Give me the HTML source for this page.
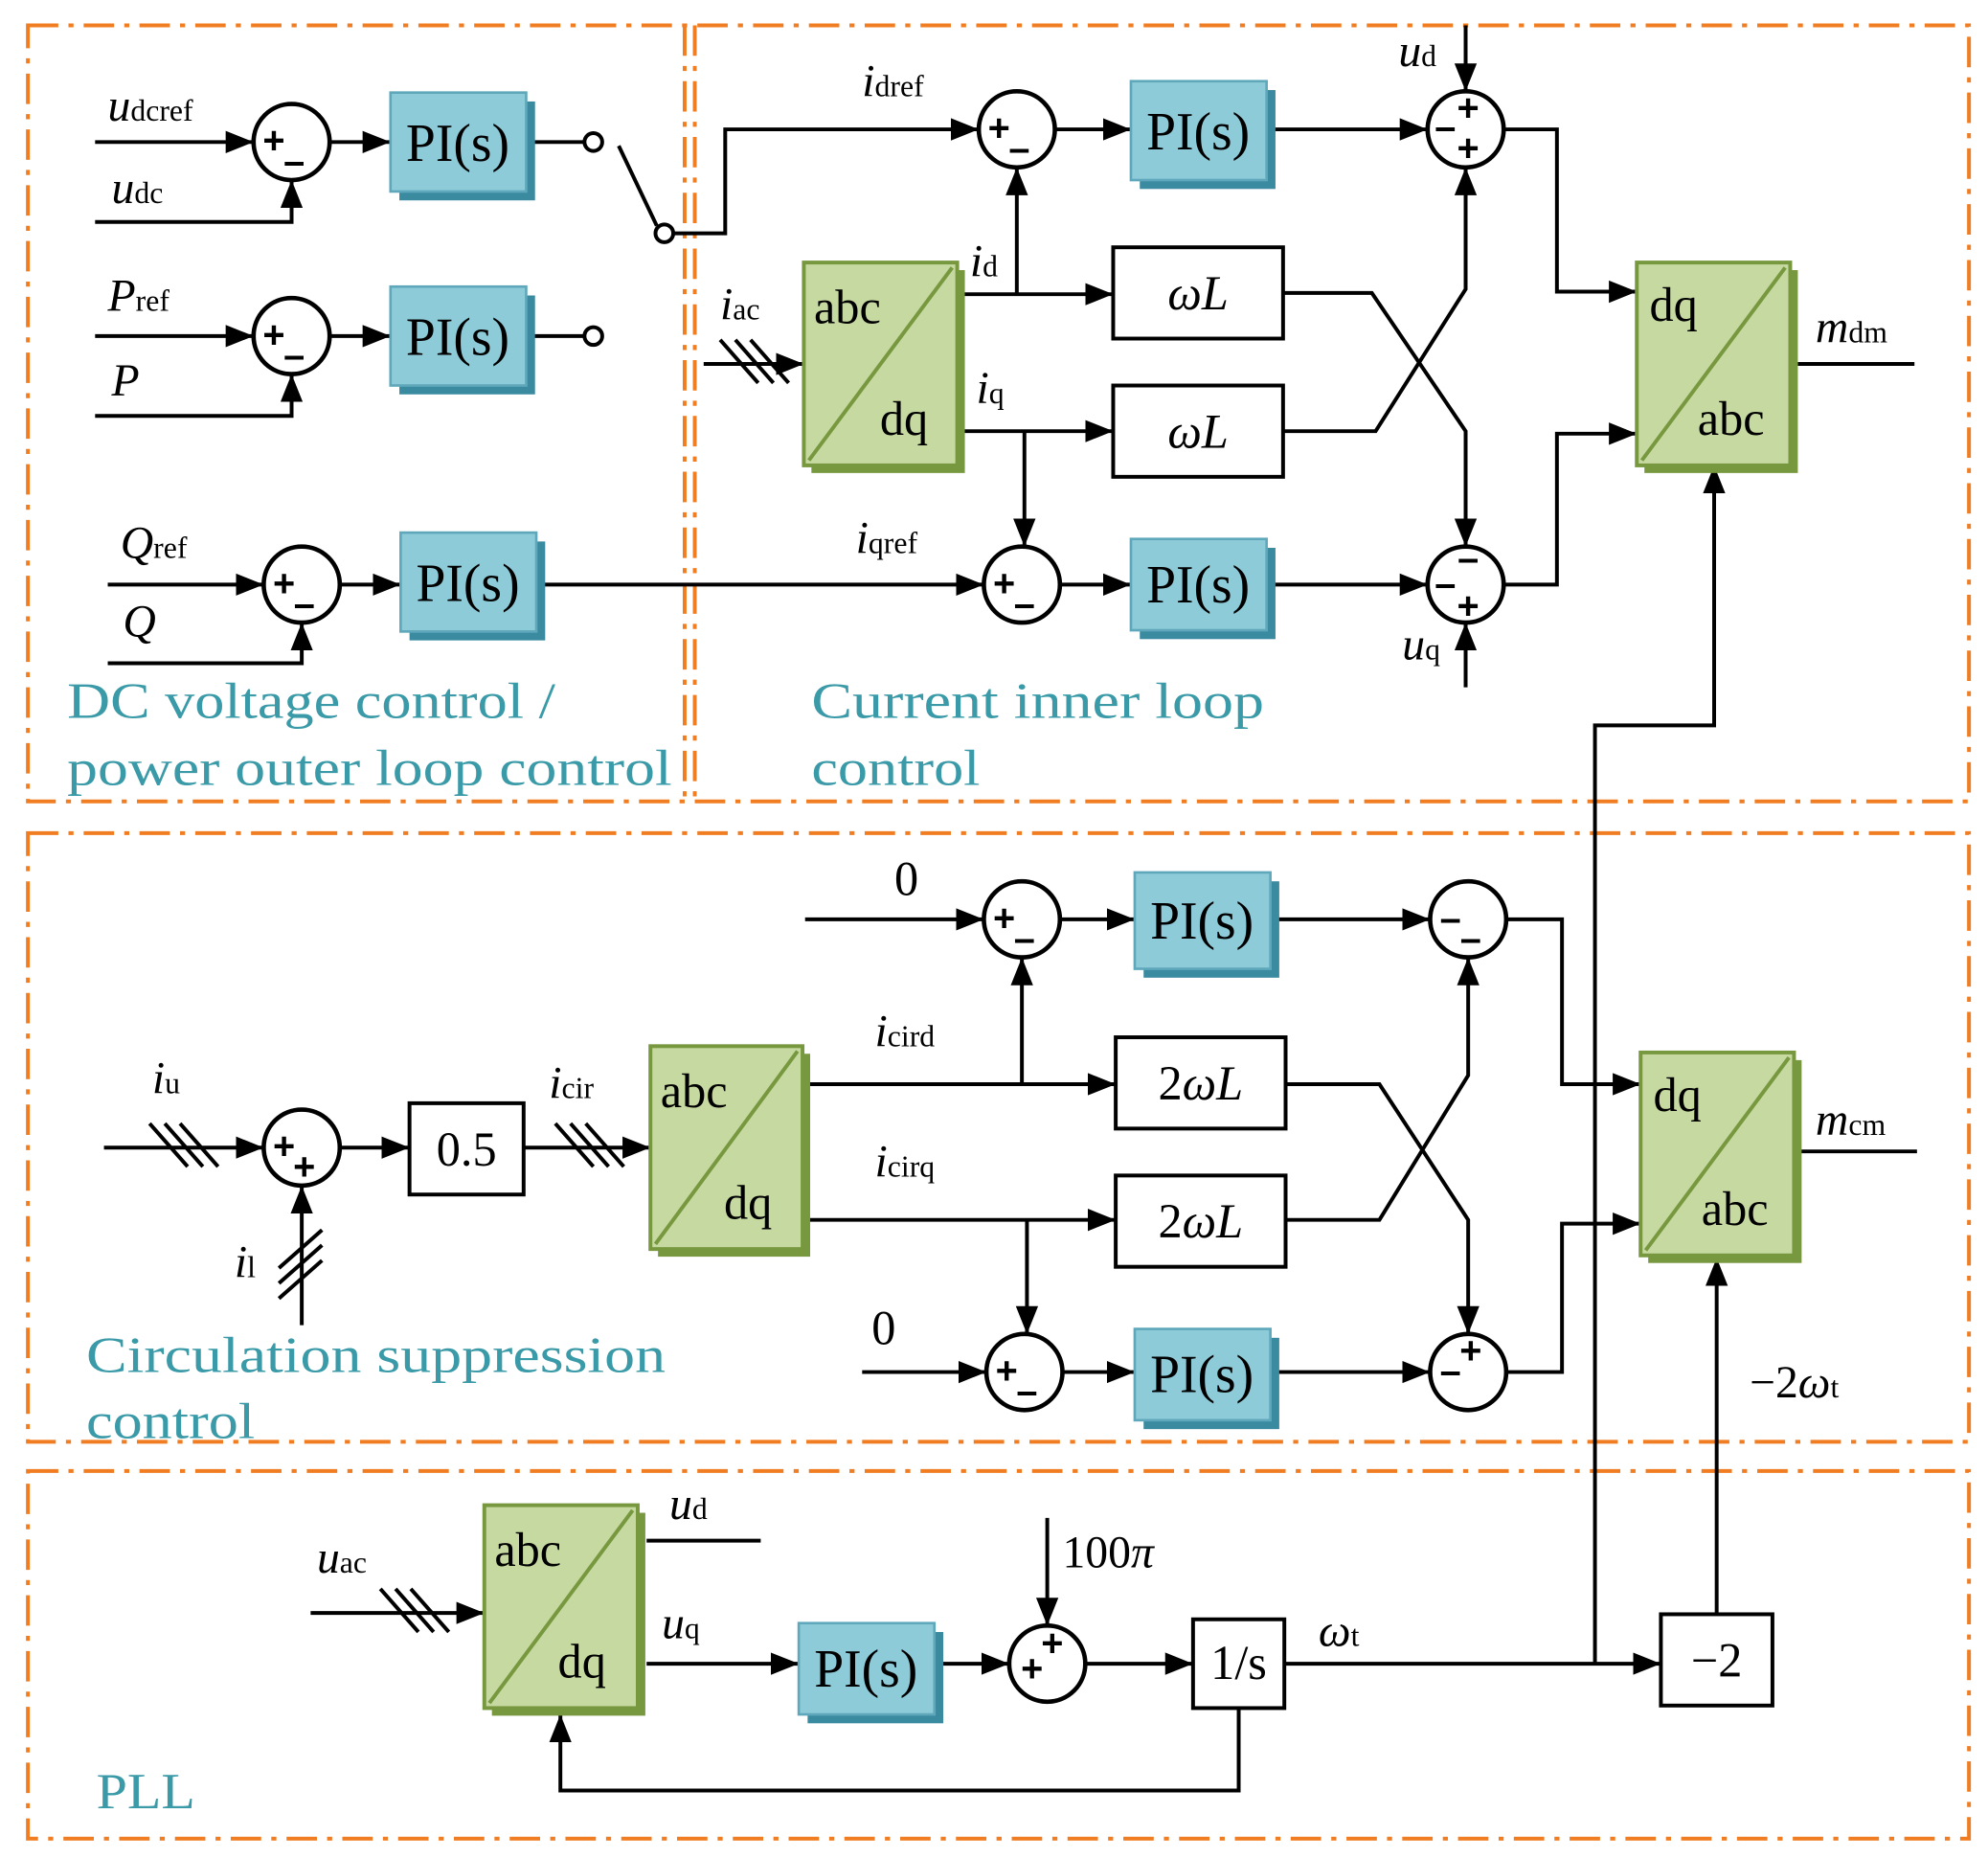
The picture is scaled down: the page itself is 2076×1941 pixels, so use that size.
<!DOCTYPE html>
<html><head><meta charset="utf-8"><style>html,body{margin:0;padding:0;background:#fff}svg{display:block}</style></head>
<body>
<svg width="2076" height="1941" viewBox="0 0 1568 1466" xmlns="http://www.w3.org/2000/svg" font-family="Liberation Serif, serif">
<defs>
<marker id="b" viewBox="0 0 10 10" refX="10" refY="5" markerWidth="22" markerHeight="22" markerUnits="userSpaceOnUse" orient="auto"><path d="M0,1L10,5L0,9z" fill="#000"/></marker>
</defs>
<g fill="none" stroke="#f07d22" stroke-width="3" stroke-dasharray="24,8,4,8">
<rect x="22" y="20" width="1531" height="612"/>
<line x1="540" y1="20" x2="540" y2="632"/><line x1="548" y1="20" x2="548" y2="632"/>
<rect x="22" y="657" width="1531" height="480"/>
<rect x="22" y="1160" width="1531" height="290"/>
</g>
<g stroke="#000" stroke-width="3" fill="none">
<line x1="75" y1="112" x2="200" y2="112" marker-end="url(#b)"/>
<polyline points="75,175 230,175 230,142" marker-end="url(#b)"/>
<line x1="260" y1="112" x2="308" y2="112" marker-end="url(#b)"/>
<line x1="420" y1="112" x2="460" y2="112"/>
<line x1="75" y1="265" x2="200" y2="265" marker-end="url(#b)"/>
<polyline points="75,328 230,328 230,295" marker-end="url(#b)"/>
<line x1="260" y1="265" x2="308" y2="265" marker-end="url(#b)"/>
<line x1="420" y1="265" x2="460" y2="265"/>
<line x1="488" y1="115" x2="518" y2="178"/>
<polyline points="532,184 572,184 572,102 772,102" marker-end="url(#b)"/>
<line x1="85" y1="461" x2="208" y2="461" marker-end="url(#b)"/>
<polyline points="85,523 238,523 238,491" marker-end="url(#b)"/>
<line x1="268" y1="461" x2="316" y2="461" marker-end="url(#b)"/>
<line x1="428" y1="461" x2="776" y2="461" marker-end="url(#b)"/>
<line x1="832" y1="102" x2="892" y2="102" marker-end="url(#b)"/>
<line x1="1004" y1="102" x2="1126" y2="102" marker-end="url(#b)"/>
<line x1="1156" y1="20" x2="1156" y2="72" marker-end="url(#b)"/>
<polyline points="1186,102 1228,102 1228,230 1291,230" marker-end="url(#b)"/>
<line x1="555" y1="287" x2="634" y2="287" marker-end="url(#b)"/>
<line x1="760" y1="232" x2="878" y2="232" marker-end="url(#b)"/>
<line x1="802" y1="232" x2="802" y2="132" marker-end="url(#b)"/>
<line x1="760" y1="340" x2="878" y2="340" marker-end="url(#b)"/>
<line x1="808" y1="340" x2="808" y2="431" marker-end="url(#b)"/>
<polyline points="1012,231 1082,231 1156,340 1156,431" marker-end="url(#b)"/>
<polyline points="1012,340 1085,340 1156,228 1156,132" marker-end="url(#b)"/>
<line x1="836" y1="461" x2="892" y2="461" marker-end="url(#b)"/>
<line x1="1004" y1="461" x2="1126" y2="461" marker-end="url(#b)"/>
<line x1="1156" y1="542" x2="1156" y2="491" marker-end="url(#b)"/>
<polyline points="1186,461 1228,461 1228,342 1291,342" marker-end="url(#b)"/>
<line x1="1418" y1="287" x2="1510" y2="287"/>
<polyline points="1258,1312 1258,572 1352,572 1352,367" marker-end="url(#b)"/>
<line x1="635" y1="725" x2="776" y2="725" marker-end="url(#b)"/>
<line x1="836" y1="725" x2="895" y2="725" marker-end="url(#b)"/>
<line x1="1007" y1="725" x2="1128" y2="725" marker-end="url(#b)"/>
<polyline points="1188,725 1232,725 1232,855 1294,855" marker-end="url(#b)"/>
<line x1="638" y1="855" x2="880" y2="855" marker-end="url(#b)"/>
<line x1="806" y1="855" x2="806" y2="755" marker-end="url(#b)"/>
<line x1="638" y1="962" x2="880" y2="962" marker-end="url(#b)"/>
<line x1="810" y1="962" x2="810" y2="1052" marker-end="url(#b)"/>
<polyline points="1014,855 1088,855 1158,962 1158,1052" marker-end="url(#b)"/>
<polyline points="1014,962 1088,962 1158,848 1158,755" marker-end="url(#b)"/>
<line x1="680" y1="1082" x2="778" y2="1082" marker-end="url(#b)"/>
<line x1="838" y1="1082" x2="895" y2="1082" marker-end="url(#b)"/>
<line x1="1007" y1="1082" x2="1128" y2="1082" marker-end="url(#b)"/>
<polyline points="1188,1082 1232,1082 1232,965 1294,965" marker-end="url(#b)"/>
<line x1="1420" y1="908" x2="1512" y2="908"/>
<line x1="1354" y1="1273" x2="1354" y2="992" marker-end="url(#b)"/>
<line x1="82" y1="905" x2="208" y2="905" marker-end="url(#b)"/>
<line x1="238" y1="1045" x2="238" y2="935" marker-end="url(#b)"/>
<line x1="268" y1="905" x2="323" y2="905" marker-end="url(#b)"/>
<line x1="413" y1="905" x2="513" y2="905" marker-end="url(#b)"/>
<line x1="245" y1="1272" x2="382" y2="1272" marker-end="url(#b)"/>
<line x1="510" y1="1215" x2="600" y2="1215"/>
<line x1="510" y1="1312" x2="630" y2="1312" marker-end="url(#b)"/>
<line x1="742" y1="1312" x2="796" y2="1312" marker-end="url(#b)"/>
<line x1="826" y1="1197" x2="826" y2="1282" marker-end="url(#b)"/>
<line x1="856" y1="1312" x2="941" y2="1312" marker-end="url(#b)"/>
<line x1="1013" y1="1312" x2="1310" y2="1312" marker-end="url(#b)"/>
<polyline points="977,1347 977,1412 442,1412 442,1352" marker-end="url(#b)"/>
<path d="M568,268l30,34M580,268l30,34M592,268l30,34"/>
<path d="M118,886l30,34M130,886l30,34M142,886l30,34"/>
<path d="M438,886l30,34M450,886l30,34M462,886l30,34"/>
<path d="M220,1000l34,-30M220,1012l34,-30M220,1024l34,-30"/>
<path d="M300,1253l30,34M312,1253l30,34M324,1253l30,34"/>
<circle cx="468" cy="112" r="7" fill="#fff"/>
<circle cx="468" cy="265" r="7" fill="#fff"/>
<circle cx="524" cy="184" r="7" fill="#fff"/>
</g>
<g stroke="#000" stroke-width="3.5" fill="#fff">
<circle cx="230" cy="112" r="30"/><circle cx="230" cy="265" r="30"/><circle cx="238" cy="461" r="30"/>
<circle cx="802" cy="102" r="30"/><circle cx="1156" cy="102" r="30"/><circle cx="806" cy="461" r="30"/><circle cx="1156" cy="461" r="30"/>
<circle cx="806" cy="725" r="30"/><circle cx="1158" cy="725" r="30"/><circle cx="238" cy="905" r="30"/><circle cx="808" cy="1082" r="30"/><circle cx="1158" cy="1082" r="30"/>
<circle cx="826" cy="1312" r="30"/>
</g>
<g font-family="Liberation Sans, sans-serif" font-weight="bold" font-size="30" text-anchor="middle">
<text x="216" y="121">+</text><text x="232" y="137">–</text>
<text x="216" y="274">+</text><text x="232" y="290">–</text>
<text x="224" y="470">+</text><text x="240" y="486">–</text>
<text x="788" y="111">+</text><text x="804" y="127">–</text>
<text x="1158" y="95">+</text><text x="1140" y="110">–</text><text x="1158" y="127">+</text>
<text x="792" y="470">+</text><text x="808" y="486">–</text>
<text x="1158" y="450">–</text><text x="1140" y="470">–</text><text x="1158" y="488">+</text>
<text x="792" y="734">+</text><text x="808" y="750">–</text>
<text x="1144" y="734">–</text><text x="1160" y="750">–</text>
<text x="224" y="914">+</text><text x="240" y="930">+</text>
<text x="794" y="1091">+</text><text x="810" y="1107">–</text>
<text x="1144" y="1091">–</text><text x="1160" y="1075">+</text>
<text x="814" y="1326">+</text><text x="830" y="1306">+</text>
</g>
<g font-size="42" text-anchor="middle">
<g transform="translate(308,73)"><rect x="7" y="7" width="107" height="78" fill="#3a8aa0"/><rect width="107" height="78" fill="#8ecbd9" stroke="#5fa8bb" stroke-width="2"/><text x="53" y="54">PI(s)</text></g>
<g transform="translate(308,226)"><rect x="7" y="7" width="107" height="78" fill="#3a8aa0"/><rect width="107" height="78" fill="#8ecbd9" stroke="#5fa8bb" stroke-width="2"/><text x="53" y="54">PI(s)</text></g>
<g transform="translate(316,420)"><rect x="7" y="7" width="107" height="78" fill="#3a8aa0"/><rect width="107" height="78" fill="#8ecbd9" stroke="#5fa8bb" stroke-width="2"/><text x="53" y="54">PI(s)</text></g>
<g transform="translate(892,64)"><rect x="7" y="7" width="107" height="78" fill="#3a8aa0"/><rect width="107" height="78" fill="#8ecbd9" stroke="#5fa8bb" stroke-width="2"/><text x="53" y="54">PI(s)</text></g>
<g transform="translate(892,425)"><rect x="7" y="7" width="107" height="72" fill="#3a8aa0"/><rect width="107" height="72" fill="#8ecbd9" stroke="#5fa8bb" stroke-width="2"/><text x="53" y="50">PI(s)</text></g>
<g transform="translate(895,688)"><rect x="7" y="7" width="107" height="76" fill="#3a8aa0"/><rect width="107" height="76" fill="#8ecbd9" stroke="#5fa8bb" stroke-width="2"/><text x="53" y="52">PI(s)</text></g>
<g transform="translate(895,1048)"><rect x="7" y="7" width="107" height="72" fill="#3a8aa0"/><rect width="107" height="72" fill="#8ecbd9" stroke="#5fa8bb" stroke-width="2"/><text x="53" y="50">PI(s)</text></g>
<g transform="translate(630,1280)"><rect x="7" y="7" width="107" height="72" fill="#3a8aa0"/><rect width="107" height="72" fill="#8ecbd9" stroke="#5fa8bb" stroke-width="2"/><text x="53" y="50">PI(s)</text></g>
</g>
<g font-size="38">
<g transform="translate(634,207)"><rect x="6" y="6" width="121" height="160" fill="#77983f"/><rect width="121" height="160" fill="#c5d9a0" stroke="#77983f" stroke-width="3"/><line x1="4" y1="156" x2="117" y2="4" stroke="#77983f" stroke-width="3"/><text x="8" y="48">abc</text><text x="60" y="136">dq</text></g>
<g transform="translate(1291,207)"><rect x="6" y="6" width="121" height="160" fill="#77983f"/><rect width="121" height="160" fill="#c5d9a0" stroke="#77983f" stroke-width="3"/><line x1="4" y1="156" x2="117" y2="4" stroke="#77983f" stroke-width="3"/><text x="10" y="46">dq</text><text x="48" y="136">abc</text></g>
<g transform="translate(513,825)"><rect x="6" y="6" width="120" height="160" fill="#77983f"/><rect width="120" height="160" fill="#c5d9a0" stroke="#77983f" stroke-width="3"/><line x1="4" y1="156" x2="116" y2="4" stroke="#77983f" stroke-width="3"/><text x="8" y="48">abc</text><text x="58" y="136">dq</text></g>
<g transform="translate(1294,830)"><rect x="6" y="6" width="121" height="160" fill="#77983f"/><rect width="121" height="160" fill="#c5d9a0" stroke="#77983f" stroke-width="3"/><line x1="4" y1="156" x2="117" y2="4" stroke="#77983f" stroke-width="3"/><text x="10" y="46">dq</text><text x="48" y="136">abc</text></g>
<g transform="translate(382,1187)"><rect x="6" y="6" width="121" height="160" fill="#77983f"/><rect width="121" height="160" fill="#c5d9a0" stroke="#77983f" stroke-width="3"/><line x1="4" y1="156" x2="117" y2="4" stroke="#77983f" stroke-width="3"/><text x="8" y="48">abc</text><text x="58" y="136">dq</text></g>
</g>
<g stroke="#000" stroke-width="3" fill="#fff">
<rect x="878" y="195" width="134" height="72"/><rect x="878" y="304" width="134" height="72"/>
<rect x="880" y="818" width="134" height="72"/><rect x="880" y="927" width="134" height="72"/>
<rect x="323" y="870" width="90" height="72"/><rect x="941" y="1277" width="72" height="70"/><rect x="1310" y="1273" width="88" height="72"/>
</g>
<g font-size="38" text-anchor="middle">
<text x="945" y="244"><tspan font-style="italic">ωL</tspan></text>
<text x="945" y="353"><tspan font-style="italic">ωL</tspan></text>
<text x="947" y="867">2<tspan font-style="italic">ωL</tspan></text>
<text x="947" y="976">2<tspan font-style="italic">ωL</tspan></text>
<text x="368" y="919">0.5</text><text x="977" y="1324">1/s</text><text x="1354" y="1322">−2</text>
<text x="715" y="706">0</text><text x="697" y="1060">0</text>
</g>
<g font-size="36" font-style="italic">
<text x="85" y="95">u<tspan font-size="24" font-style="normal">dcref</tspan></text>
<text x="88" y="160">u<tspan font-size="24" font-style="normal">dc</tspan></text>
<text x="85" y="245">P<tspan font-size="24" font-style="normal">ref</tspan></text>
<text x="88" y="312">P</text>
<text x="95" y="440">Q<tspan font-size="24" font-style="normal">ref</tspan></text>
<text x="97" y="502">Q</text>
<text x="680" y="76">i<tspan font-size="24" font-style="normal">dref</tspan></text>
<text x="1103" y="52">u<tspan font-size="24" font-style="normal">d</tspan></text>
<text x="568" y="252">i<tspan font-size="24" font-style="normal">ac</tspan></text>
<text x="765" y="218">i<tspan font-size="24" font-style="normal">d</tspan></text>
<text x="770" y="318">i<tspan font-size="24" font-style="normal">q</tspan></text>
<text x="675" y="436">i<tspan font-size="24" font-style="normal">qref</tspan></text>
<text x="1106" y="520">u<tspan font-size="24" font-style="normal">q</tspan></text>
<text x="1432" y="270">m<tspan font-size="24" font-style="normal">dm</tspan></text>
<text x="690" y="825">i<tspan font-size="24" font-style="normal">cird</tspan></text>
<text x="690" y="928">i<tspan font-size="24" font-style="normal">cirq</tspan></text>
<text x="1432" y="895">m<tspan font-size="24" font-style="normal">cm</tspan></text>
<text x="1380" y="1102"><tspan font-style="normal">−2</tspan>ω<tspan font-size="24" font-style="normal">t</tspan></text>
<text x="120" y="862">i<tspan font-size="24" font-style="normal">u</tspan></text>
<text x="185" y="1007">i<tspan font-size="24" font-style="normal">l</tspan></text>
<text x="433" y="866">i<tspan font-size="24" font-style="normal">cir</tspan></text>
<text x="250" y="1240">u<tspan font-size="24" font-style="normal">ac</tspan></text>
<text x="528" y="1198">u<tspan font-size="24" font-style="normal">d</tspan></text>
<text x="522" y="1292">u<tspan font-size="24" font-style="normal">q</tspan></text>
<text x="838" y="1236"><tspan font-style="normal">100</tspan>π</text>
<text x="1040" y="1298">ω<tspan font-size="24" font-style="normal">t</tspan></text>
</g>
<g font-size="40" fill="#3a9aa8" lengthAdjust="spacingAndGlyphs">
<text x="53" y="566" textLength="385" lengthAdjust="spacingAndGlyphs">DC voltage control /</text>
<text x="53" y="619" textLength="477" lengthAdjust="spacingAndGlyphs">power outer loop control</text>
<text x="640" y="566" textLength="357" lengthAdjust="spacingAndGlyphs">Current inner loop</text>
<text x="640" y="619" textLength="133" lengthAdjust="spacingAndGlyphs">control</text>
<text x="68" y="1082" textLength="457" lengthAdjust="spacingAndGlyphs">Circulation suppression</text>
<text x="68" y="1134" textLength="133" lengthAdjust="spacingAndGlyphs">control</text>
<text x="76" y="1426" textLength="78" lengthAdjust="spacingAndGlyphs">PLL</text>
</g>
</svg>
</body></html>
